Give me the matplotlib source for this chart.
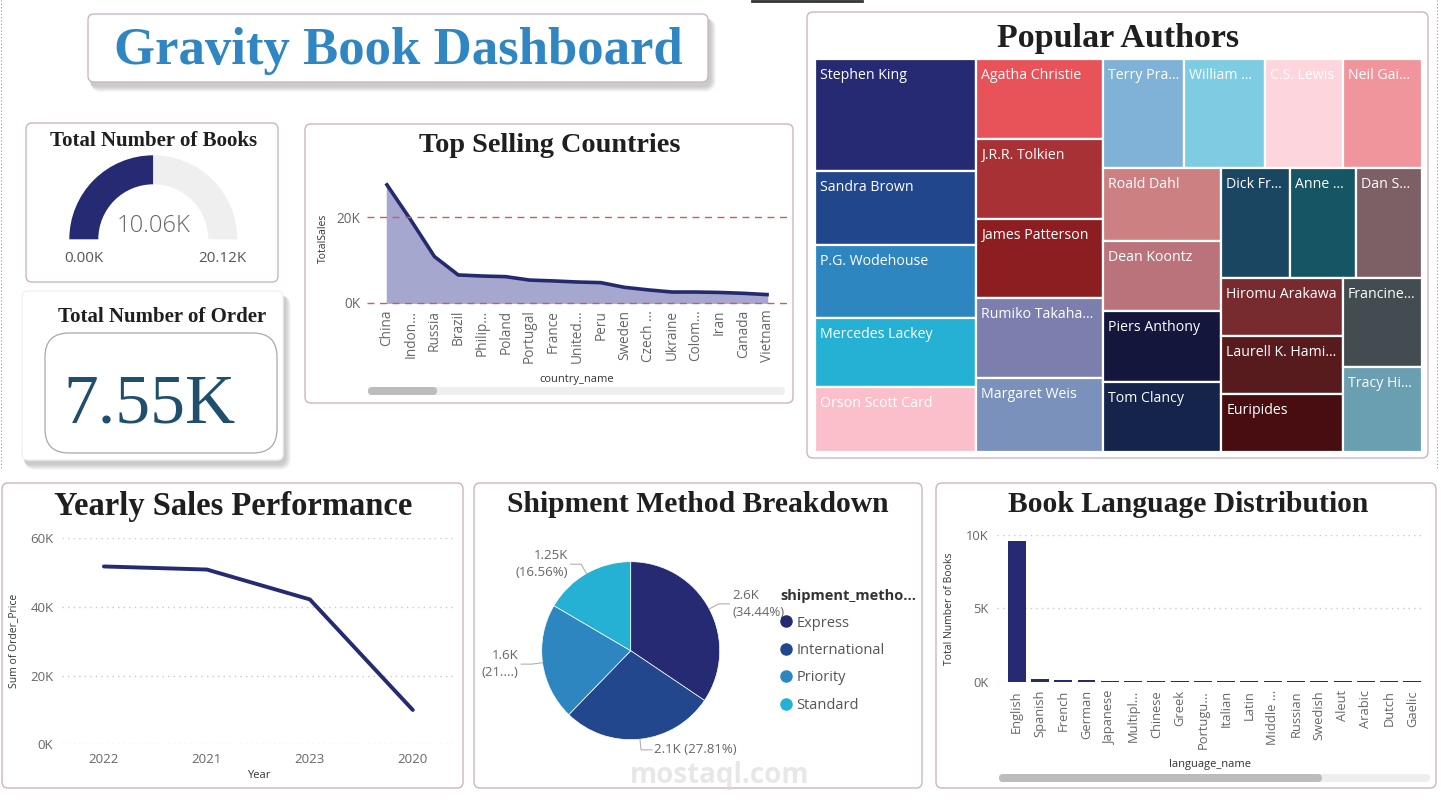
import matplotlib

matplotlib.use("Agg")
import matplotlib.pyplot as plt  # noqa: E402
import numpy as np  # noqa: E402
from matplotlib.lines import Line2D  # noqa: E402
from matplotlib.patches import FancyBboxPatch, Rectangle, Wedge  # noqa: E402
from matplotlib.ticker import FuncFormatter  # noqa: E402

plt.rcParams["font.family"] = ["Open Sans", "DejaVu Sans"]

W, H = 1441, 809

# ---- data -------------------------------------------------------------
total_books = 10060
gauge_max = 20120
total_orders = 7550

countries = ["China", "Indon...", "Russia", "Brazil", "Philip...", "Poland",
             "Portugal", "France", "United...", "Peru", "Sweden", "Czech ...",
             "Ukraine", "Colom...", "Iran", "Canada", "Vietnam"]
country_sales = [27600, 19400, 10800, 6500, 6250, 6100, 5300, 5100, 4850,
                 4700, 3600, 3000, 2500, 2500, 2400, 2200, 1900]

years = ["2022", "2021", "2023", "2020"]
year_sales = [51800, 50900, 42200, 10000]

ship_methods = ["Express", "International", "Priority", "Standard"]
ship_orders = [2600, 2100, 1600, 1250]
ship_labels = ["2.6K\n(34.44%)", "2.1K (27.81%)", "1.6K\n(21....)", "1.25K\n(16.56%)"]

languages = ["English", "Spanish", "French", "German", "Japanese", "Multipl...",
             "Chinese", "Greek", "Portugu...", "Italian", "Latin", "Middle ...",
             "Russian", "Swedish", "Aleut", "Arabic", "Dutch", "Gaelic"]
language_books = [9590, 200, 130, 110, 80, 75, 72, 70, 68, 66, 64, 62, 60, 60,
                  58, 56, 55, 55]

authors = ["Stephen King", "Sandra Brown", "P.G. Wodehouse", "Mercedes Lackey",
           "Orson Scott Card", "Agatha Christie", "J.R.R. Tolkien",
           "James Patterson", "Rumiko Takaha...", "Margaret Weis", "Terry Pra...",
           "William ...", "C.S. Lewis", "Neil Gai...", "Roald Dahl", "Dean Koontz",
           "Piers Anthony", "Tom Clancy", "Dick Fr...", "Anne ...", "Dan S...",
           "Hiromu Arakawa", "Laurell K. Hami...", "Euripides", "Francine...",
           "Tracy Hi..."]
author_books = [69, 46, 45, 43, 40, 39, 39, 39, 39, 36, 34, 34, 33, 33, 33, 32,
                32, 32, 29, 28, 28, 27, 27, 27, 27, 26]
# how many authors go into each strip of the treemap
strip_sizes = [5, 5, 4, 4, 3, 3, 1, 1]

# ---- styles -----------------------------------------------------------
NAVY = "#252a73"
PANEL_EDGE = "#cdb3c3"
TITLE_FONT = ["Liberation Serif", "DejaVu Serif"]
TICK_COLOR = "#666666"
SHIP_COLORS = ["#252a73", "#22478d", "#2e86c1", "#25b1d3"]
AUTHOR_COLORS = ["#252a73", "#22468c", "#2e86c1", "#25b1d3", "#fbbfcc",
                 "#e8535a", "#a83135", "#8c1e22", "#7c7ead", "#7a91bc",
                 "#80b2d7", "#7dcce2", "#fdd5dd", "#f0959b", "#cd8082",
                 "#ba737a", "#14173b", "#14244b", "#1b4662", "#165563",
                 "#7d5f66", "#782b2f", "#571b1e", "#480d10", "#424c51",
                 "#699fb1"]

k_fmt = FuncFormatter(lambda v, _: f"{v / 1000:.0f}K")

fig = plt.figure(figsize=(W / 100, H / 100), dpi=100)
fig.patch.set_facecolor("white")

bg = fig.add_axes([0, 0, 1, 1])
bg.set_xlim(0, W)
bg.set_ylim(H, 0)
bg.axis("off")


def px_axes(x0, y0, x1, y1):
    return fig.add_axes([x0 / W, 1 - y1 / H, (x1 - x0) / W, (y1 - y0) / H])


def panel(x0, y0, x1, y1, edge=PANEL_EDGE, radius=6, shadow=False):
    if shadow:
        for i in range(6, 0, -1):
            bg.add_patch(FancyBboxPatch(
                (x0 + 2, y0 + 4), x1 - x0 + i, y1 - y0 + i,
                boxstyle=f"round,pad=0,rounding_size={radius + i}",
                facecolor="#000000", edgecolor="none", alpha=0.035, zorder=1))
    bg.add_patch(FancyBboxPatch(
        (x0, y0), x1 - x0, y1 - y0, boxstyle=f"round,pad=0,rounding_size={radius}",
        facecolor="white", edgecolor=edge, linewidth=1.0, zorder=2))


def panel_title(x, y, text, size):
    bg.text(x, y, text, ha="center", va="center", fontsize=size,
            fontweight="bold", family=TITLE_FONT, color="#1f1f1f", zorder=5)


def scrollbar(x0, x1, thumb_x1, y):
    bg.add_patch(FancyBboxPatch((x0, y - 4), x1 - x0, 8,
                                boxstyle="round,pad=0,rounding_size=4",
                                facecolor="#eeeeee", edgecolor="none", zorder=3))
    bg.add_patch(FancyBboxPatch((x0, y - 4), thumb_x1 - x0, 8,
                                boxstyle="round,pad=0,rounding_size=4",
                                facecolor="#bcbcbc", edgecolor="none", zorder=4))


# page frame bits
bg.plot([1, 1], [0, 470], color="#999999", lw=0.8, ls=(0, (1, 2)), zorder=1)
bg.plot([1437, 1437], [0, 470], color="#999999", lw=0.8, ls=(0, (1, 2)), zorder=1)
bg.plot([752, 862], [0.5, 0.5], color="#333333", lw=2, zorder=1)

# ---- panels -----------------------------------------------------------
panel(88, 14, 708, 82, shadow=True)
bg.text(398, 51, "Gravity Book Dashboard", ha="center", va="center",
        fontsize=38, fontweight="bold", family=TITLE_FONT, color="#2f86c3", zorder=5)

panel(26, 123, 278, 282)
panel(22, 291, 283, 460, edge="#f2f2f2", shadow=True)
panel(305, 124, 793, 403)
panel(807, 12, 1428, 458)
panel(2, 483, 463, 788)
panel(474, 483, 922, 788)
panel(936, 483, 1436, 788)

panel_title(154, 141, "Total Number of Books", 15)
panel_title(162, 317, "Total Number of Order", 15)
panel_title(550, 145, "Top Selling Countries", 20.3)
panel_title(1118, 38, "Popular Authors", 24.5)
panel_title(233, 507, "Yearly Sales Performance", 23.5)
panel_title(698, 505, "Shipment Method Breakdown", 21.3)
panel_title(1188, 505, "Book Language Distribution", 21.3)

# ---- gauge ------------------------------------------------------------
cx, cy, r_out, ring = 153.3, 239.3, 84, 29
split = 180 + 180 * total_books / gauge_max
bg.add_patch(Wedge((cx, cy), r_out, 180, split, width=ring, facecolor=NAVY,
                   edgecolor="none", zorder=5))
bg.add_patch(Wedge((cx, cy), r_out, split, 360, width=ring, facecolor="#efefef",
                   edgecolor="none", zorder=5))
bg.text(cx, 226, f"{total_books / 1000:.2f}K", ha="center", va="center",
        fontsize=17, color="#666666", fontweight="light", zorder=6)
bg.text(cx - r_out + ring / 2, 258, "0.00K", ha="center", va="center",
        fontsize=11, color="#555555", zorder=6)
bg.text(cx + r_out - ring / 2, 258, f"{gauge_max / 1000:.2f}K", ha="center",
        va="center", fontsize=11, color="#555555", zorder=6)

# ---- order card -------------------------------------------------------
bg.add_patch(FancyBboxPatch((45, 333), 232, 120,
                            boxstyle="round,pad=0,rounding_size=24",
                            facecolor="white", edgecolor="#a8a8a8", linewidth=0.9,
                            zorder=5))
bg.text(150, 406, f"{total_orders / 1000:.2f}K", ha="center", va="center",
        fontsize=50, family=TITLE_FONT, color="#204f6e", zorder=6)

# ---- top selling countries -------------------------------------------
ax_c = px_axes(367, 174.6, 787, 302.7)
ax_c.set_facecolor("none")
xc = np.arange(len(countries))
ax_c.fill_between(xc, country_sales, color="#a6a7ce", zorder=2)
ax_c.plot(xc, country_sales, color="#252a6f", lw=2.6, zorder=3)
ax_c.set_xlim(-0.84, len(countries) - 1 + 0.84)
ax_c.set_ylim(0, 30000)
ax_c.set_yticks([0, 20000])
ax_c.yaxis.set_major_formatter(k_fmt)
for yv in ax_c.get_yticks():
    ax_c.axhline(yv, color="#cf5b5b", lw=1.0, ls=(0, (5, 4)), zorder=4,
                 clip_on=False)
ax_c.set_xticks(xc)
ax_c.set_xticklabels(countries, rotation=90)
ax_c.tick_params(length=0, labelsize=9.8, labelcolor=TICK_COLOR, pad=5)
ax_c.set_ylabel("TotalSales", fontsize=7.5, color="#333333", labelpad=5)
ax_c.set_xlabel("country_name", fontsize=8, color="#333333")
ax_c.xaxis.set_label_coords(0.5, -0.56)
for s in ax_c.spines.values():
    s.set_visible(False)
scrollbar(368, 785, 437, 391)

# ---- treemap ----------------------------------------------------------
TW, TH = 607, 393


def strip_layout(values, counts, x, y, w, h):
    scale = w * h / sum(values)
    rects, i = [], 0
    for n in counts:
        group = values[i:i + n]
        area = sum(group) * scale
        if w >= h:
            sw, yy = area / h, y
            for v in group:
                vh = v * scale / sw
                rects.append((x, yy, sw, vh))
                yy += vh
            x, w = x + sw, w - sw
        else:
            sh, xx = area / w, x
            for v in group:
                vw = v * scale / sh
                rects.append((xx, y, vw, sh))
                xx += vw
            y, h = y + sh, h - sh
        i += n
    return rects


ax_t = px_axes(815, 59, 815 + TW, 59 + TH)
ax_t.set_xlim(0, TW)
ax_t.set_ylim(TH, 0)
ax_t.axis("off")
for (x, y, w, h), name, col in zip(strip_layout(author_books, strip_sizes, 0, 0, TW, TH),
                                   authors, AUTHOR_COLORS):
    ax_t.add_patch(Rectangle((x, y), w, h, facecolor=col, edgecolor="white", lw=1.6))
    ax_t.text(x + 5, y + 9, name, ha="left", va="top", fontsize=10.2, color="white",
              clip_on=True)

# ---- yearly sales -----------------------------------------------------
ax_y = px_axes(61.7, 538.3, 455, 744.3)
ax_y.set_facecolor("none")
xy = np.arange(len(years))
ax_y.plot(xy, year_sales, color=NAVY, lw=2.8, solid_capstyle="round")
ax_y.set_xlim(-0.41, len(years) - 1 + 0.41)
ax_y.set_ylim(0, 60000)
ax_y.set_yticks([0, 20000, 40000, 60000])
ax_y.yaxis.set_major_formatter(k_fmt)
ax_y.yaxis.grid(True, color="#c8c8c8", lw=1, ls=(0, (1, 3)))
ax_y.set_xticks(xy)
ax_y.set_xticklabels(years)
ax_y.tick_params(length=0, labelsize=9.5, labelcolor=TICK_COLOR, pad=6)
ax_y.set_ylabel("Sum of Order_Price", fontsize=7.5, color="#333333", labelpad=8)
ax_y.set_xlabel("Year", fontsize=8, color="#333333", labelpad=3)
for s in ax_y.spines.values():
    s.set_visible(False)

# ---- shipment pie -----------------------------------------------------
ax_p = px_axes(519.7, 539.7, 741.7, 761.7)
wedges, _ = ax_p.pie(ship_orders, colors=SHIP_COLORS, startangle=90,
                     counterclock=False, radius=1,
                     wedgeprops=dict(edgecolor="white", linewidth=0.5))
lim = 111 / 89
ax_p.set_xlim(-lim, lim)
ax_p.set_ylim(-lim, lim)
ax_p.set_aspect("equal")
for wdg, lab in zip(wedges, ship_labels):
    th = np.deg2rad((wdg.theta1 + wdg.theta2) / 2)
    c, s = np.cos(th), np.sin(th)
    side = 1 if c >= 0 else -1
    p0 = (c * 1.0, s * 1.0)
    p1 = (c * 1.12, s * 1.12)
    p2 = (p1[0] + side * 0.12, p1[1])
    ax_p.plot([p0[0], p1[0], p2[0]], [p0[1], p1[1], p2[1]], color="#b0b0b0",
              lw=0.8, clip_on=False)
    ax_p.text(p2[0] + side * 0.03, p2[1], lab, ha="left" if side > 0 else "right",
              va="center", fontsize=9.5, color="#666666", linespacing=1.35,
              clip_on=False)
handles = [Line2D([], [], marker="o", ls="none", markersize=8, color=col)
           for col in SHIP_COLORS]
leg = ax_p.legend(handles, ship_methods, title="shipment_metho...", loc="upper left",
                  bbox_to_anchor=(767 / W, 1 - 576 / H), bbox_transform=fig.transFigure,
                  frameon=False, fontsize=10.5, handlelength=0.8, handletextpad=0.3,
                  labelspacing=0.85, alignment="left",
                  title_fontproperties={"weight": "bold", "size": 10.5})
for t in leg.get_texts():
    t.set_color("#555555")
leg.get_title().set_color("#333333")

# ---- language bars ----------------------------------------------------
ax_l = px_axes(996.7, 535, 1423.3, 681.7)
ax_l.set_facecolor("none")
xl = np.arange(len(languages))
ax_l.bar(xl, language_books, width=0.77, color=NAVY, zorder=3)
ax_l.set_xlim(-0.86, len(languages) - 1 + 0.47)
ax_l.set_ylim(0, 10000)
ax_l.set_yticks([0, 5000, 10000])
ax_l.yaxis.set_major_formatter(k_fmt)
ax_l.yaxis.grid(True, color="#c8c8c8", lw=1, ls=(0, (1, 3)))
ax_l.set_axisbelow(True)
ax_l.set_xticks(xl)
ax_l.set_xticklabels(languages, rotation=90)
ax_l.tick_params(length=0, labelsize=9.3, labelcolor=TICK_COLOR, pad=6)
ax_l.set_ylabel("Total Number of Books", fontsize=7.5, color="#333333", labelpad=8)
ax_l.set_xlabel("language_name", fontsize=8, color="#333333")
ax_l.xaxis.set_label_coords(0.5, -0.53)
for s in ax_l.spines.values():
    s.set_visible(False)
scrollbar(999, 1430, 1322, 778)

# faint watermark of the source site
bg.text(720, 776, "mostaql.com", ha="center", va="center", fontsize=20,
        fontweight="bold", color="#d8d8d8", alpha=0.6, zorder=20)

fig.savefig("out.png", dpi=100, facecolor="white")
